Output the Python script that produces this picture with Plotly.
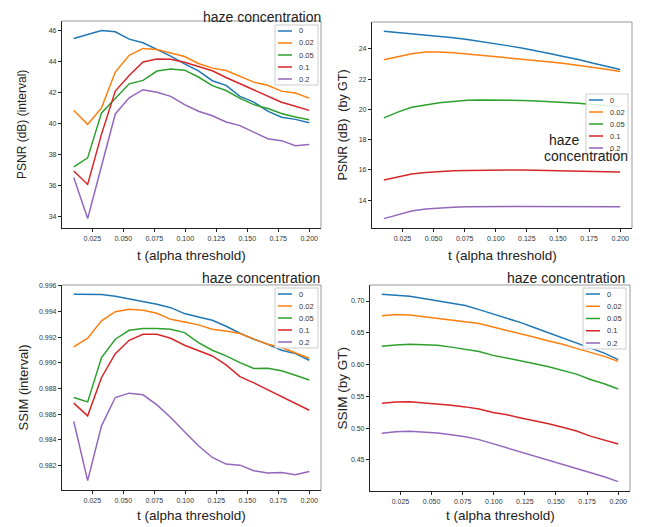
import plotly.graph_objects as go

# The page body has an 8px margin, so the figure is sized to fit the window
OFF = 8
W, H = 646 - OFF, 527 - OFF

t_values = [0.01, 0.0212, 0.0324, 0.0435, 0.0547, 0.0659, 0.0771, 0.0882, 0.0994,
            0.1106, 0.1218, 0.1329, 0.1441, 0.1553, 0.1665, 0.1776, 0.1888, 0.2]
haze_levels = ["0", "0.02", "0.05", "0.1", "0.2"]

# PSNR (dB) (interval)
psnr_interval_0 = [45.46, 45.72, 45.98, 45.89, 45.42, 45.18, 44.75, 44.32, 43.82, 43.37, 42.74, 42.44, 41.73, 41.36, 40.78, 40.39, 40.25, 40.03]
psnr_interval_002 = [40.82, 39.93, 40.99, 43.3, 44.38, 44.82, 44.75, 44.55, 44.3, 43.85, 43.55, 43.4, 43.05, 42.65, 42.45, 42.07, 41.95, 41.62]
psnr_interval_005 = [37.19, 37.77, 40.67, 41.6, 42.54, 42.76, 43.36, 43.49, 43.42, 42.98, 42.42, 42.11, 41.6, 41.2, 40.95, 40.63, 40.4, 40.23]
psnr_interval_01 = [36.93, 36.06, 39.3, 42.07, 43.08, 43.95, 44.14, 44.12, 43.93, 43.66, 43.38, 42.95, 42.55, 42.15, 41.77, 41.35, 41.1, 40.83]
psnr_interval_02 = [36.5, 33.86, 37.25, 40.6, 41.64, 42.16, 42.0, 41.73, 41.2, 40.77, 40.48, 40.08, 39.85, 39.45, 39.0, 38.88, 38.55, 38.63]

# PSNR (dB) (by GT)
psnr_gt_0 = [25.16, 25.08, 25.0, 24.93, 24.84, 24.73, 24.62, 24.49, 24.35, 24.2, 24.04, 23.88, 23.68, 23.48, 23.3, 23.06, 22.85, 22.64]
psnr_gt_002 = [23.28, 23.47, 23.68, 23.8, 23.8, 23.74, 23.66, 23.58, 23.5, 23.42, 23.33, 23.24, 23.14, 23.04, 22.92, 22.79, 22.66, 22.51]
psnr_gt_005 = [19.44, 19.82, 20.14, 20.3, 20.43, 20.52, 20.6, 20.62, 20.62, 20.61, 20.59, 20.56, 20.52, 20.47, 20.4, 20.32, 20.27, 20.2]
psnr_gt_01 = [15.32, 15.54, 15.73, 15.82, 15.89, 15.93, 15.96, 15.98, 15.99, 15.99, 15.98, 15.97, 15.95, 15.94, 15.92, 15.9, 15.88, 15.86]
psnr_gt_02 = [12.77, 13.03, 13.28, 13.4, 13.47, 13.52, 13.55, 13.57, 13.58, 13.58, 13.58, 13.58, 13.57, 13.57, 13.57, 13.56, 13.56, 13.56]

# SSIM (interval)
ssim_interval_0 = [0.99535, 0.99533, 0.99533, 0.9952, 0.9950, 0.99478, 0.99457, 0.99431, 0.99385, 0.99359, 0.99333, 0.99286, 0.99232, 0.99185, 0.99146, 0.99099, 0.99073, 0.99021]
ssim_interval_002 = [0.99125, 0.99193, 0.99328, 0.994, 0.99418, 0.9941, 0.99387, 0.9934, 0.9932, 0.99297, 0.99263, 0.9925, 0.99229, 0.9919, 0.99146, 0.9912, 0.99079, 0.99037]
ssim_interval_005 = [0.98731, 0.98697, 0.99042, 0.99185, 0.99255, 0.99268, 0.99268, 0.99263, 0.99237, 0.99159, 0.99099, 0.99055, 0.99003, 0.98957, 0.98959, 0.98939, 0.98905, 0.98868]
ssim_interval_01 = [0.98687, 0.98588, 0.98887, 0.99073, 0.99177, 0.99224, 0.99224, 0.99193, 0.99138, 0.99094, 0.99055, 0.98985, 0.98894, 0.98845, 0.98793, 0.98736, 0.98684, 0.98632]
ssim_interval_02 = [0.98544, 0.98083, 0.9851, 0.98731, 0.98765, 0.98752, 0.98674, 0.98575, 0.98464, 0.98355, 0.98264, 0.98212, 0.98204, 0.9816, 0.98142, 0.98147, 0.98129, 0.98155]

# SSIM (by GT)
ssim_gt_0 = [0.7105, 0.709, 0.7075, 0.704, 0.7005, 0.697, 0.693, 0.6865, 0.6798, 0.673, 0.666, 0.658, 0.65, 0.642, 0.634, 0.627, 0.618, 0.6078]
ssim_gt_002 = [0.677, 0.679, 0.678, 0.6755, 0.673, 0.6705, 0.668, 0.6645, 0.659, 0.654, 0.6485, 0.643, 0.637, 0.632, 0.6255, 0.6195, 0.613, 0.6051]
ssim_gt_005 = [0.6287, 0.631, 0.632, 0.631, 0.6305, 0.6275, 0.6245, 0.6205, 0.6145, 0.6105, 0.606, 0.6015, 0.5965, 0.5905, 0.585, 0.5765, 0.57, 0.5616]
ssim_gt_01 = [0.5391, 0.541, 0.5415, 0.54, 0.5385, 0.536, 0.5335, 0.53, 0.5245, 0.521, 0.516, 0.512, 0.507, 0.5015, 0.4955, 0.4875, 0.481, 0.4751]
ssim_gt_02 = [0.492, 0.4945, 0.495, 0.494, 0.4925, 0.4895, 0.4865, 0.482, 0.4755, 0.4695, 0.4635, 0.457, 0.4505, 0.4435, 0.437, 0.431, 0.4235, 0.4159]

x_ticks = [0.025, 0.05, 0.075, 0.1, 0.125, 0.15, 0.175, 0.2]
psnr_interval_ticks = [34, 36, 38, 40, 42, 44, 46]
psnr_gt_ticks = [14, 16, 18, 20, 22, 24]
ssim_interval_ticks = [0.982, 0.984, 0.986, 0.988, 0.990, 0.992, 0.994, 0.996]
ssim_gt_ticks = [0.45, 0.50, 0.55, 0.60, 0.65, 0.70]

colors = ["#1f77b4", "#ff7f0e", "#2ca02c", "#d62728", "#9467bd"]


def px(x):
    return (x - OFF) / W


def py(y):
    return 1 - (y - OFF) / H


panels = [
    dict(series=[psnr_interval_0, psnr_interval_002, psnr_interval_005, psnr_interval_01, psnr_interval_02],
         ticks=psnr_interval_ticks, fmt="d", ytitle="PSNR (dB) (interval)", ysize=12,
         box=(62, 321, 21, 228), leg=(275, 318, 25, 85), ytx=22.5, xty=255),
    dict(series=[psnr_gt_0, psnr_gt_002, psnr_gt_005, psnr_gt_01, psnr_gt_02],
         ticks=psnr_gt_ticks, fmt="d", ytitle="PSNR (dB)  (by GT)", ysize=12.5,
         box=(372, 632, 22, 228), leg=(586, 628, 94, 154), ytx=342.5, xty=255),
    dict(series=[ssim_interval_0, ssim_interval_002, ssim_interval_005, ssim_interval_01, ssim_interval_02],
         ticks=ssim_interval_ticks, fmt=".3f", ytitle="SSIM (interval)", ysize=13,
         box=(62, 321, 285, 490), leg=(275, 318, 288, 348), ytx=23, xty=515),
    dict(series=[ssim_gt_0, ssim_gt_002, ssim_gt_005, ssim_gt_01, ssim_gt_02],
         ticks=ssim_gt_ticks, fmt=".2f", ytitle="SSIM (by GT)", ysize=13.5,
         box=(370, 630, 285, 491), leg=(583, 626, 288, 349), ytx=341.5, xty=515),
]

fig = go.Figure()
layout = dict(width=W, height=H, margin=dict(l=0, r=0, t=0, b=0, autoexpand=False),
              plot_bgcolor="white", paper_bgcolor="white", showlegend=False,
              font=dict(family="Liberation Sans, Arial, sans-serif", color="#222"))
annotations = []
shapes = []

xmin, xmax = min(t_values), max(t_values)
xpad = (xmax - xmin) * 0.05

for i, p in enumerate(panels):
    n = i + 1
    xa = "x" if n == 1 else f"x{n}"
    ya = "y" if n == 1 else f"y{n}"
    for s, name, c in zip(p["series"], haze_levels, colors):
        fig.add_trace(go.Scatter(x=t_values, y=s, mode="lines", name=name,
                                 line=dict(color=c, width=1.5),
                                 xaxis=xa, yaxis=ya))
    allv = [v for s in p["series"] for v in s]
    lo, hi = min(allv), max(allv)
    pad = (hi - lo) * 0.05
    l, r, t, b = p["box"]
    axis_common = dict(showgrid=False, zeroline=False, showline=True, linecolor="#222",
                       linewidth=1.2, ticks="outside", ticklen=3, tickwidth=1, tickcolor="#222",
                       tickfont=dict(size=7, color="#333"))
    layout["xaxis" if n == 1 else f"xaxis{n}"] = dict(
        domain=[px(l), px(r)], anchor=ya, range=[xmin - xpad, xmax + xpad],
        tickvals=x_ticks, tickformat=".3f", **axis_common)
    layout["yaxis" if n == 1 else f"yaxis{n}"] = dict(
        domain=[py(b), py(t)], anchor=xa, range=[lo - pad, hi + pad],
        tickvals=p["ticks"], tickformat=p["fmt"], **axis_common)
    # top / right frame in grey
    shapes.append(dict(type="line", xref=f"{xa} domain", yref=f"{ya} domain",
                       x0=0, x1=1, y0=1, y1=1, line=dict(color="#999", width=1)))
    shapes.append(dict(type="line", xref=f"{xa} domain", yref=f"{ya} domain",
                       x0=1, x1=1, y0=0, y1=1, line=dict(color="#999", width=1)))
    # legend box
    gl, gr, gt, gb = p["leg"]
    shapes.append(dict(type="rect", xref="paper", yref="paper", x0=px(gl), x1=px(gr),
                       y0=py(gb), y1=py(gt), fillcolor="rgba(255,255,255,0.85)",
                       line=dict(color="#cccccc", width=1)))
    pitch = (gb - gt - 12) / 4.0
    for k, (name, c) in enumerate(zip(haze_levels, colors)):
        ry = gt + 6 + k * pitch
        shapes.append(dict(type="line", xref="paper", yref="paper", x0=px(gl + 3), x1=px(gl + 17),
                           y0=py(ry), y1=py(ry), line=dict(color=c, width=1.5)))
        annotations.append(dict(text=name, xref="paper", yref="paper", x=px(gl + 22), y=py(ry),
                                showarrow=False, xanchor="left", yanchor="middle",
                                font=dict(size=7.5, color="#333")))
    # axis titles
    annotations.append(dict(text="t (alpha threshold)", xref="paper", yref="paper",
                            x=px((l + r) / 2), y=py(p["xty"]), showarrow=False,
                            xanchor="center", yanchor="middle", font=dict(size=13.5, color="#222")))
    annotations.append(dict(text=p["ytitle"], xref="paper", yref="paper",
                            x=px(p["ytx"]), y=py((t + b) / 2), showarrow=False, textangle=-90,
                            xanchor="center", yanchor="middle", font=dict(size=p["ysize"], color="#222")))

# "haze concentration" captions
cap_font = dict(size=14, color="#222")
annotations.append(dict(text="haze concentration", xref="paper", yref="paper", x=px(322), y=py(17),
                        showarrow=False, xanchor="right", yanchor="middle", borderpad=0, font=cap_font))
annotations.append(dict(text="haze", xref="paper", yref="paper", x=px(547), y=py(140),
                        showarrow=False, xanchor="left", yanchor="middle", font=cap_font))
annotations.append(dict(text="concentration", xref="paper", yref="paper", x=px(542), y=py(156),
                        showarrow=False, xanchor="left", yanchor="middle", font=cap_font))
annotations.append(dict(text="haze concentration", xref="paper", yref="paper", x=px(322), y=py(278),
                        showarrow=False, xanchor="right", yanchor="middle", font=cap_font))
annotations.append(dict(text="haze concentration", xref="paper", yref="paper", x=px(627), y=py(278),
                        showarrow=False, xanchor="right", yanchor="middle", font=cap_font))

layout["annotations"] = annotations
layout["shapes"] = shapes
fig.update_layout(**layout)
fig.write_html("out.html")
